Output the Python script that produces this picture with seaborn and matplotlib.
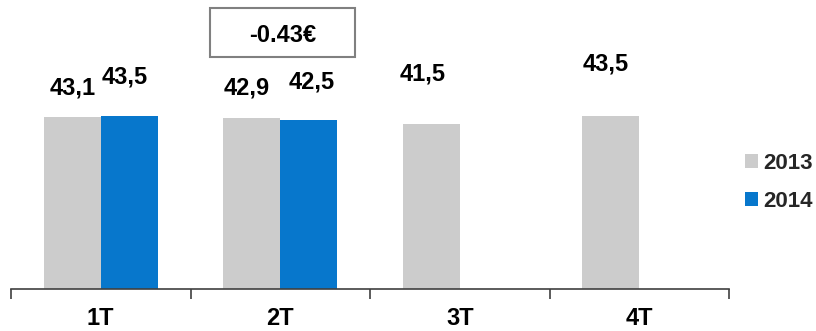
import matplotlib
matplotlib.use("Agg")
import matplotlib.pyplot as plt
from matplotlib.patches import Patch, Rectangle
import numpy as np
import pandas as pd
import seaborn as sns

# Quarterly values per year
quarters = ["1T", "2T", "3T", "4T"]
years = ["2013", "2014"]
values_2013 = [43.1, 42.9, 41.5, 43.5]
values_2014 = [43.5, 42.5, np.nan, np.nan]
label_2013 = ["43,1", "42,9", "41,5", "43,5"]
label_2014 = ["43,5", "42,5", "", ""]
delta_text = "-0.43€"

colors = {"2013": "#CCCCCC", "2014": "#0777CC"}

df = pd.DataFrame({
    "quarter": quarters * 2,
    "year": ["2013"] * 4 + ["2014"] * 4,
    "value": values_2013 + values_2014,
})

sns.set_theme(style="white")
plt.rcParams["font.family"] = ["Liberation Sans", "DejaVu Sans"]
plt.rcParams["font.weight"] = "bold"

FS = 17
W, H = 816, 331
fig = plt.figure(figsize=(W / 100, H / 100), dpi=100)
ax_left, ax_right, ax_bottom = 11, 729, 289
ax = fig.add_axes([ax_left / W, 1 - ax_bottom / H, (ax_right - ax_left) / W, ax_bottom / H])

sns.barplot(data=df, x="quarter", y="value", hue="year", order=quarters,
            hue_order=years, palette=colors, width=0.635, gap=0,
            saturation=1, ax=ax, legend=False, linewidth=0)

ax.set_xlim(-0.5, 3.5)
ax.set_ylim(0, ax_bottom / 3.98)

# label offsets (points) relative to the top of each bar
off_2013 = [(0, 21), (-4, 22), (-6, 36), (-4, 37)]
off_2014 = [(-3, 28), (2, 27), (0, 0), (0, 0)]
bw = 0.635 / 2
for i in range(4):
    x13 = i - bw / 2
    x14 = i + bw / 2
    ax.annotate(label_2013[i], (x13, values_2013[i]), xytext=off_2013[i],
                textcoords="offset points", ha="center", va="center",
                fontsize=FS, fontweight="bold", color="black",
                annotation_clip=False)
    if label_2014[i]:
        ax.annotate(label_2014[i], (x14, values_2014[i]), xytext=off_2014[i],
                    textcoords="offset points", ha="center", va="center",
                    fontsize=FS, fontweight="bold", color="black",
                    annotation_clip=False)

# boxed change note above the second quarter
bx0, bx1, by0, by1 = 210, 355, 8, 57
fig.patches.append(Rectangle((bx0 / W, 1 - by1 / H), (bx1 - bx0) / W, (by1 - by0) / H,
                             transform=fig.transFigure, fc="white",
                             ec="#808080", lw=1.5))
fig.text((bx0 + bx1) / 2 / W, 1 - 35.5 / H, delta_text, ha="center", va="center",
         fontsize=FS, fontweight="bold", color="black")

# axes styling: only the baseline with boundary ticks
for s in ["top", "right", "left"]:
    ax.spines[s].set_visible(False)
ax.spines["bottom"].set_color("#404040")
ax.spines["bottom"].set_linewidth(1.2)
ax.set_yticks([])
ax.set_xlabel("")
ax.set_ylabel("")
ax.set_xticks(range(4))
ax.set_xticklabels(quarters, fontsize=FS, fontweight="bold", color="black")
ax.tick_params(axis="x", which="major", length=0, pad=13)
ax.set_xticks(np.arange(-0.5, 4, 1), minor=True)
ax.tick_params(axis="x", which="minor", length=7, width=1.2, color="#404040",
               direction="out", bottom=True)

handles = [Patch(facecolor=colors[y], edgecolor="none", label=y) for y in years]
leg = fig.legend(handles=handles, loc="upper left",
                 bbox_to_anchor=(745 / W, 1 - 153 / H), frameon=False,
                 prop={"size": 16, "weight": "bold", "family": "Liberation Sans"},
                 handlelength=0.58, handleheight=0.58,
                 handletextpad=0.25, labelspacing=0.75, borderpad=0,
                 borderaxespad=0)

fig.savefig("out.png", dpi=100)
